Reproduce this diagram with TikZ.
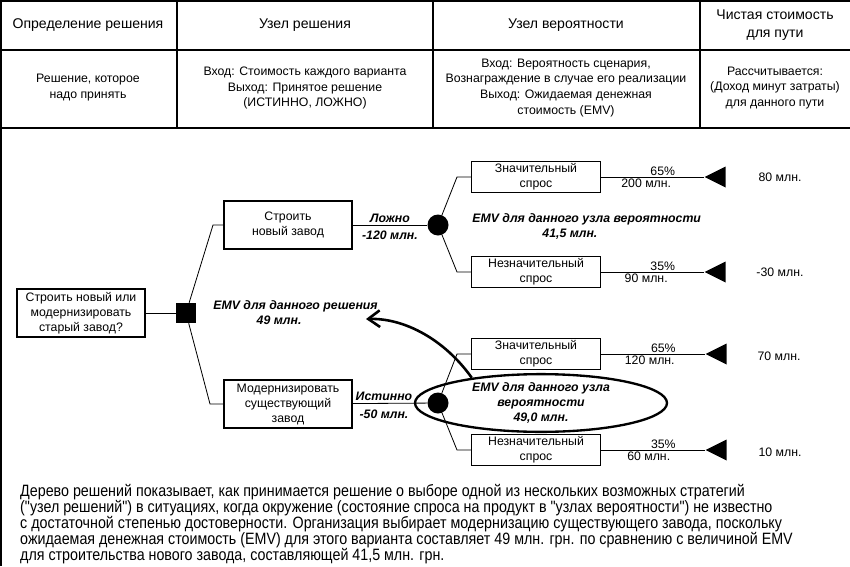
\documentclass[tikz,border=0pt]{standalone}
\usepackage{fontspec}
\setmainfont{Liberation Sans}
\newfontfamily\narrowfont[FakeStretch=0.87]{Liberation Sans}
\usetikzlibrary{positioning,arrows.meta,shapes.geometric}

\begin{document}
\begin{tikzpicture}[
  x=0.3mm, y=-0.3mm,
  box/.style={draw, line width=1.1pt, align=center, minimum width=38.4mm, minimum height=14.4mm, inner sep=1pt, font=\fontsize{10.5}{12.8}\selectfont},
  dem/.style={box, minimum width=38.5mm, minimum height=9.4mm},
  hdr/.style={align=center, font=\fontsize{12}{16}\selectfont},
  cell/.style={align=center, font=\fontsize{10.5}{13.6}\selectfont},
  lbl/.style={font=\fontsize{10.5}{12.8}\selectfont, inner sep=1pt},
  emv/.style={align=left, font=\fontsize{10.5}{12.8}\selectfont\bfseries\itshape, inner sep=1pt},
  dec/.style={fill, minimum size=6mm, inner sep=0pt},
  chance/.style={circle, fill, minimum size=6.3mm, inner sep=0pt},
  endp/.style={isosceles triangle, isosceles triangle stretches, shape border rotate=180, fill, inner sep=0pt, minimum width=6.3mm, minimum height=6.3mm},
  rule/.style={line width=1.4pt},
  link/.style={line width=0.7pt},
  back/.style={-{Straight Barb[length=3.5mm, width=5mm]}, line width=2.2pt}
]
\useasboundingbox (0,0) rectangle (850,566);
\draw[rule] (1,566) -- (1,1) -- (850,1);
\draw[rule] (0,50) -- (850,50);
\draw[rule] (0,128) -- (850,128);
\foreach \cx in {177,433,700} \draw[rule] (\cx,1) -- (\cx,128);

\node[hdr] (h1) at (88,25) {Определение решения};
\node[hdr] (h2) at (305,25) {Узел решения};
\node[hdr] (h3) at (566,25) {Узел вероятности};
\node[hdr] (h4) at (775,25) {Чистая стоимость\\для пути};
\node[cell] (b1) at (88,88) {Решение, которое\\надо принять};
\node[cell] (b2) at (305,88) {Вход: Стоимость каждого варианта\\Выход: Принятое решение\\(ИСТИННО, ЛОЖНО)};
\node[cell] (b3) at (566,88) {Вход: Вероятность сценария,\\Вознаграждение в случае его реализации\\Выход: Ожидаемая денежная\\стоимость (EMV)};
\node[cell] (b4) at (775,88) {Рассчитывается:\\(Доход минут затраты)\\для данного пути};

\node[box] (root) at (81,313) {Строить новый или\\модернизировать\\старый завод?};
\node[dec] (sq) at (186,313) {};
\node[box] (new) at (288,225) {Строить\\новый завод};
\node[box] (mod) at (288,404) {Модернизировать\\существующий\\завод};
\node[chance] (c1) at (438,225) {};
\node[chance] (c2) at (438,403) {};
\node[dem] (hi1) at (536,177) {Значительный\\спрос};
\node[dem] (lo1) at (536,272) {Незначительный\\спрос};
\node[dem] (hi2) at (536,354) {Значительный\\спрос};
\node[dem] (lo2) at (536,450) {Незначительный\\спрос};
\node[endp, anchor=apex] (t1) at (704,177) {};
\node[endp, anchor=apex] (t2) at (704,272) {};
\node[endp, anchor=apex] (t3) at (705,354) {};
\node[endp, anchor=apex] (t4) at (705,450) {};
\node[lbl] (v1) at (780,177) {80 млн.};
\node[lbl] (v2) at (780,272) {-30 млн.};
\node[lbl] (v3) at (779,356) {70 млн.};
\node[lbl] (v4) at (780,452) {10 млн.};
\node[draw, ellipse, line width=2pt, minimum width=75.6mm, minimum height=15.6mm, align=center, inner sep=0pt,
  font=\fontsize{10.5}{12.8}\selectfont\bfseries\itshape] (emv2) at (541,403) {EMV для данного узла\\вероятности\\49,0 млн.};
\node[emv, anchor=west] (emv1) at (212,313) {EMV для данного решения\\\hspace*{13mm}49 млн.};
\node[emv, anchor=west] (emv0) at (471,226) {EMV для данного узла вероятности\\\hspace*{21mm}41,5 млн.};

\coordinate (k1) at (213,225);
\coordinate (k2) at (210,404);
\coordinate (k3) at (457,177);
\coordinate (k4) at (457,272);
\coordinate (k5) at (457,354);
\coordinate (k6) at (457,450);
\coordinate (tip) at (366,319);

\draw[link] (root) -- (sq);
\draw[link] (sq) -- (k1) -- (new);
\draw[link] (sq) -- (k2) -- (mod);
\draw[link] (new) -- node[emv, above=1pt] {Ложно} node[emv, below=4pt] {-120 млн.} (c1);
\draw[link] (mod) -- node[emv, above=1pt, pos=0.42] {Истинно} node[emv, below=4pt, pos=0.42] {-50 млн.} (c2);
\draw[link] (c1) -- (k3) -- (hi1);
\draw[link] (c1) -- (k4) -- (lo1);
\draw[link] (c2) -- (k5) -- (hi2);
\draw[link] (c2) -- (k6) -- (lo2);
\draw[link] (hi1) -- node[lbl, above, pos=0.6] {65\%} node[lbl, below, pos=0.44] {200 млн.} (t1);
\draw[link] (lo1) -- node[lbl, above, pos=0.6] {35\%} node[lbl, below, pos=0.44] {90 млн.} (t2);
\draw[link] (hi2) -- node[lbl, above, pos=0.6] {65\%} node[lbl, below, pos=0.47] {120 млн.} (t3);
\draw[link] (lo2) -- node[lbl, above, pos=0.6] {35\%} node[lbl, below, pos=0.46] {60 млн.} (t4);
\draw[back] (emv2.160) .. controls (445,340) and (405,318) .. (tip);

\node[anchor=north west, align=left, inner sep=0pt, font=\narrowfont\fontsize{14}{13.6}\selectfont] (note) at (20,484)
{Дерево решений показывает, как принимается решение о выборе одной из нескольких возможных стратегий\\
("узел решений") в ситуациях, когда окружение (состояние спроса на продукт в "узлах вероятности") не известно\\
с достаточной степенью достоверности. Организация выбирает модернизацию существующего завода, поскольку\\
ожидаемая денежная стоимость (EMV) для этого варианта составляет 49 млн. грн. по сравнению с величиной EMV\\
для строительства нового завода, составляющей 41,5 млн. грн.};
\end{tikzpicture}
\end{document}
